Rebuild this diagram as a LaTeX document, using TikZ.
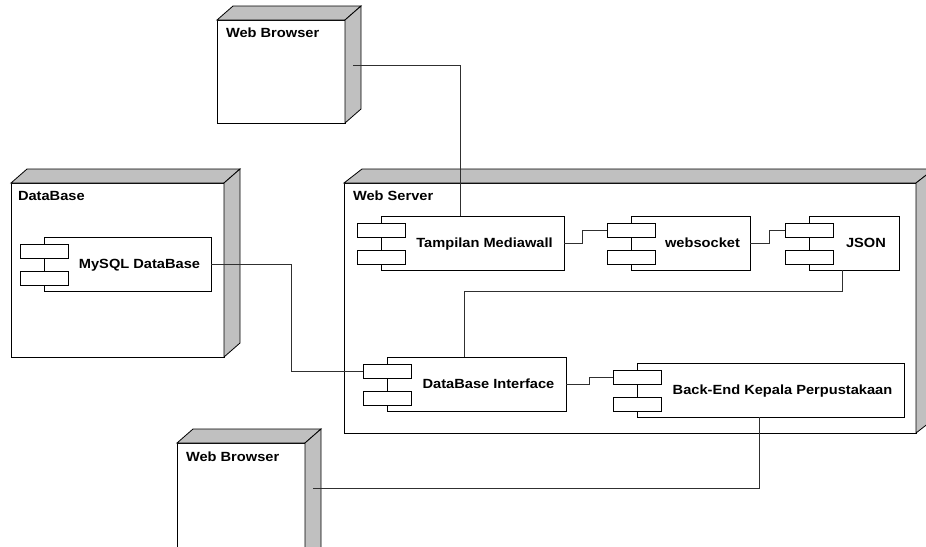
\documentclass[tikz,border=0pt]{standalone}
\usepackage{fontspec}
\setmainfont{Liberation Sans}[FakeStretch=1.1]
\usetikzlibrary{calc}
\definecolor{facegray}{HTML}{C0C0C0}
\definecolor{conncol}{HTML}{303030}
\tikzset{
  frontface/.style={draw=black, fill=white, line width=0.8pt, rectangle, inner sep=0pt, outer sep=0pt, anchor=north west},
  compbox/.style={draw=black, fill=white, line width=0.8pt, rectangle, inner sep=0pt, outer sep=0pt, minimum height=54pt, anchor=north west},
  portbox/.style={draw=black, fill=white, line width=0.8pt, rectangle, inner sep=0pt, outer sep=0pt, minimum width=48pt, minimum height=14pt, anchor=north},
  lbl/.style={font=\fontsize{13.3}{15}\selectfont\bfseries, inner sep=0pt, outer sep=0pt},
  connline/.style={draw=conncol, line width=0.8pt},
  shadeface/.style={fill=facegray, draw=black, line width=0.8pt, line join=miter}
}
\newcommand\cubenode[7]{% name, left, top, width, height, dx, dy
  \node[frontface, minimum width=#4pt, minimum height=#5pt] (#1) at (#2,#3) {};
  \filldraw[shadeface] (#1.north west) -- ++(#6,-#7) -- ($(#1.north east)+(#6,-#7)$) -- (#1.north east) -- cycle;
  \filldraw[shadeface] (#1.north east) -- ++(#6,-#7) -- ($(#1.south east)+(#6,-#7)$) -- (#1.south east) -- cycle;
}
\newcommand\compnode[5]{% name, left, top, width, text
  \node[compbox, minimum width=#4pt] (#1) at (#2,#3) {};
  \node[portbox] (#1a) at ($(#1.north west)+(0,7)$) {};
  \node[portbox] (#1b) at ($(#1.north west)+(0,34)$) {};
  \node[lbl, anchor=base] (#1t) at ($(#1.center)+(12,4.7)$) {#5};
}
\begin{document}
\begin{tikzpicture}[x=1pt, y=-1pt]
\useasboundingbox (0,0) rectangle (926,546);
% deployment nodes
\cubenode{wbtop}{217}{20}{128}{103}{16}{14}
\node[lbl, anchor=west] (wbtopl) at ($(wbtop.north west)+(9,13)$) {Web Browser};
\cubenode{dbn}{11}{183}{213}{174}{16}{14}
\node[lbl, anchor=west] (dbnl) at ($(dbn.north west)+(7,13)$) {DataBase};
\cubenode{wsn}{344}{183}{572}{250}{18}{14}
\node[lbl, anchor=west] (wsnl) at ($(wsn.north west)+(9,13)$) {Web Server};
\cubenode{wbbot}{177}{443}{128}{125}{16}{14}
\node[lbl, anchor=west] (wbbotl) at ($(wbbot.north west)+(9,14)$) {Web Browser};
% components
\compnode{mysql}{44}{237}{167}{MySQL DataBase}
\compnode{tamp}{381}{216}{183}{Tampilan Mediawall}
\compnode{wsock}{631}{216}{119}{websocket}
\compnode{json}{809}{216}{90}{JSON}
\compnode{dbi}{387}{357}{179}{DataBase Interface}
\compnode{be}{637}{363}{267}{Back-End Kepala Perpustakaan}
% connectors
\coordinate (wbtopp) at ($(wbtop.north east)+(8,45)$);
\coordinate (wbbotp) at ($(wbbot.north east)+(8,45)$);
\draw[connline] (wbtopp) -| ([xshift=-12.5pt]tamp.north);
\draw[connline] (mysql.east) -- ++(80,0) |- (dbia.west);
\draw[connline] (tamp.east) -- ++(18,0) |- (wsocka.west);
\draw[connline] (wsock.east) -- ++(19,0) |- (jsona.west);
\draw[connline] ([xshift=-12pt]json.south) -- ++(0,21) -| ([xshift=-12.5pt]dbi.north);
\draw[connline] (dbi.east) -- ++(23,0) |- (bea.west);
\draw[connline] ([xshift=-11.5pt]be.south) |- (wbbotp);
\end{tikzpicture}
\end{document}
